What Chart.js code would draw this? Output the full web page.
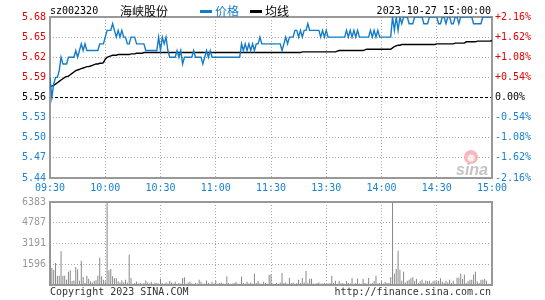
<!DOCTYPE html>
<html>
<head>
<meta charset="utf-8">
<script src="https://cdn.jsdelivr.net/npm/chart.js@4.4.1/dist/chart.umd.min.js"></script>
<style>
  body { margin: 0; background: #fff; }
  #wrap { position: relative; width: 545px; height: 300px; }
  #wrap canvas { position: absolute; left: 0; top: 0; }
</style>
</head>
<body>
<div id="wrap">
  <canvas id="priceChart" width="545" height="300"></canvas>
  <canvas id="volChart" width="545" height="300"></canvas>
</div>
<script>
// ─── Data (one point per minute, 09:30 → 15:00) ───────────────────
const prevClose = 5.56;
const xTickMins = [0, 30, 60, 90, 120, 150, 180, 210, 240];
const xTickLabels = ["09:30", "10:00", "10:30", "11:00", "11:30", "13:30", "14:00", "14:30", "15:00"];
const priceTicks = [5.44, 5.47, 5.50, 5.53, 5.56, 5.59, 5.62, 5.65, 5.68];
const priceTickLabels = ["5.44", "5.47", "5.50", "5.53", "5.56", "5.59", "5.62", "5.65", "5.68"];
const pctTicks = [-2.16, -1.62, -1.08, -0.54, 0, 0.54, 1.08, 1.62, 2.16];
const pctTickLabels = ["-2.16%", "-1.62%", "-1.08%", "-0.54%", "0.00%", "+0.54%", "+1.08%", "+1.62%", "+2.16%"];
const volTicks = [0, 1596, 3191, 4787, 6383];
const volTickLabels = ["", "1596", "3191", "4787", "6383"];

const price = [
  5.59,5.56,5.58,5.59,5.59,5.60,5.62,5.61,5.61,5.61,
  5.62,5.62,5.62,5.62,5.63,5.62,5.63,5.64,5.63,5.64,
  5.63,5.63,5.63,5.63,5.63,5.63,5.63,5.64,5.64,5.64,
  5.65,5.66,5.66,5.66,5.67,5.66,5.65,5.66,5.65,5.66,
  5.65,5.65,5.64,5.64,5.65,5.65,5.65,5.64,5.64,5.64,
  5.64,5.64,5.63,5.63,5.63,5.63,5.63,5.63,5.63,5.65,
  5.63,5.65,5.64,5.65,5.63,5.62,5.62,5.62,5.62,5.63,
  5.62,5.63,5.61,5.62,5.62,5.62,5.62,5.62,5.63,5.62,
  5.62,5.62,5.62,5.61,5.62,5.63,5.62,5.63,5.62,5.62,
  5.62,5.62,5.62,5.62,5.62,5.62,5.62,5.62,5.62,5.62,
  5.62,5.62,5.62,5.62,5.64,5.63,5.64,5.63,5.64,5.63,
  5.64,5.63,5.64,5.64,5.65,5.64,5.64,5.64,5.64,5.64,
  5.64,5.64,5.64,5.64,5.64,5.64,5.63,5.64,5.65,5.64,
  5.65,5.65,5.65,5.66,5.66,5.65,5.66,5.65,5.66,5.66,
  5.67,5.66,5.66,5.66,5.66,5.66,5.66,5.65,5.66,5.65,
  5.66,5.65,5.65,5.65,5.65,5.65,5.65,5.65,5.65,5.65,
  5.65,5.66,5.65,5.66,5.65,5.66,5.65,5.66,5.65,5.65,
  5.65,5.65,5.65,5.65,5.66,5.65,5.66,5.65,5.66,5.65,
  5.65,5.65,5.65,5.65,5.65,5.65,5.68,5.66,5.68,5.66,
  5.68,5.67,5.68,5.68,5.68,5.67,5.67,5.67,5.68,5.68,
  5.68,5.68,5.68,5.67,5.67,5.67,5.68,5.68,5.68,5.68,
  5.68,5.67,5.67,5.68,5.68,5.67,5.68,5.68,5.67,5.67,
  5.68,5.68,5.67,5.68,5.68,5.68,5.68,5.68,5.68,5.68,
  5.67,5.67,5.67,5.67,5.67,5.68,5.68,5.68,5.68,5.68,
  5.68
];

const avgPrice = [
  5.577,5.577,5.578,5.580,5.582,5.584,5.586,5.588,5.590,5.591,
  5.592,5.594,5.596,5.598,5.600,5.601,5.602,5.603,5.604,5.605,
  5.606,5.606,5.607,5.608,5.609,5.610,5.610,5.611,5.611,5.612,
  5.617,5.620,5.621,5.622,5.623,5.623,5.623,5.624,5.624,5.624,
  5.624,5.624,5.624,5.624,5.625,5.625,5.625,5.626,5.626,5.626,
  5.626,5.627,5.627,5.627,5.627,5.627,5.627,5.627,5.627,5.627,
  5.627,5.627,5.627,5.627,5.627,5.627,5.627,5.627,5.627,5.627,
  5.627,5.627,5.627,5.627,5.627,5.627,5.627,5.627,5.627,5.627,
  5.627,5.627,5.627,5.627,5.627,5.627,5.627,5.627,5.627,5.627,
  5.627,5.627,5.627,5.627,5.627,5.627,5.627,5.627,5.627,5.627,
  5.627,5.627,5.627,5.627,5.627,5.627,5.627,5.627,5.627,5.627,
  5.627,5.627,5.627,5.627,5.627,5.627,5.627,5.627,5.627,5.627,
  5.627,5.627,5.627,5.627,5.627,5.627,5.627,5.627,5.627,5.627,
  5.627,5.627,5.627,5.627,5.627,5.627,5.627,5.628,5.628,5.628,
  5.628,5.628,5.628,5.628,5.628,5.628,5.628,5.628,5.628,5.628,
  5.628,5.628,5.628,5.628,5.628,5.628,5.629,5.630,5.630,5.630,
  5.630,5.630,5.630,5.630,5.630,5.630,5.630,5.630,5.630,5.630,
  5.630,5.631,5.632,5.632,5.632,5.632,5.632,5.632,5.632,5.632,
  5.632,5.632,5.632,5.632,5.632,5.632,5.634,5.636,5.637,5.638,
  5.638,5.639,5.639,5.639,5.639,5.639,5.639,5.639,5.639,5.639,
  5.639,5.639,5.639,5.639,5.639,5.639,5.639,5.639,5.639,5.639,
  5.640,5.640,5.640,5.640,5.640,5.640,5.640,5.640,5.640,5.640,
  5.641,5.641,5.641,5.641,5.641,5.641,5.643,5.643,5.643,5.643,
  5.643,5.643,5.644,5.644,5.644,5.644,5.644,5.644,5.644,5.644,
  5.645
];

const volume = [
  3000,1300,1180,1690,720,720,2590,720,720,410,
  1020,1130,300,350,1380,1200,330,1870,620,150,
  720,490,280,200,330,360,720,2100,670,410,
  280,6383,1130,1230,670,510,510,280,200,360,
  200,410,200,2330,540,100,150,260,120,180,
  100,150,350,200,120,250,100,180,150,120,
  490,150,100,200,120,300,200,120,250,100,
  150,120,540,590,100,200,250,120,100,150,
  120,410,250,100,120,350,150,100,250,120,
  300,100,150,200,120,100,670,150,100,120,
  150,250,120,100,660,150,100,250,120,200,
  100,870,150,300,120,100,250,150,100,790,
  800,120,80,150,100,200,920,150,200,100,
  560,150,200,100,150,400,150,540,200,1100,
  150,490,490,120,100,150,200,100,120,150,
  100,120,150,720,150,330,100,300,120,150,
  100,300,150,120,540,100,150,490,120,100,
  490,150,120,540,100,150,300,720,120,150,
  280,120,250,150,150,620,6350,870,1230,2640,
  1180,330,1020,200,330,410,510,590,330,460,
  150,280,410,150,350,280,330,150,280,350,
  280,330,510,250,150,330,200,410,150,330,
  100,560,560,870,460,800,150,280,410,410,
  800,1020,280,150,410,410,460,330,100,80,
  50
];

// ─── Styles ───────────────────────────────────────────────────────
const BLUE_LINE = "#137cc9";
const BLUE_TEXT = "#1a82d4";
const RED_TEXT = "#e60000";
const GRID = "#aaaaaa";
const FRAME = "#999999";
const MONO = '"DejaVu Sans Mono", monospace';
const CJK = '"Noto Sans CJK SC", sans-serif';

Chart.defaults.font.family = MONO;
Chart.defaults.font.size = 10;

const setTicks = (values) => (scale) => {
    scale.ticks = values.map(v => ({ value: v }));
};
const sideColor = (i, mid) => (i < mid ? BLUE_TEXT : i > mid ? RED_TEXT : "#000");

// ─── Plugins ──────────────────────────────────────────────────────
const FramePlugin = {
    id: "frame",
    beforeDatasetsDraw(chart) {
        const { ctx, chartArea: a } = chart;
        ctx.save();
        ctx.strokeStyle = FRAME;
        ctx.lineWidth = 2;
        ctx.strokeRect(a.left, a.top, a.right - a.left, a.bottom - a.top);
        ctx.restore();
    },
};

const HeaderPlugin = {
    id: "header",
    afterDraw(chart) {
        const { ctx } = chart;
        ctx.save();
        ctx.textBaseline = "middle";
        ctx.fillStyle = "#000";
        ctx.font = "10px " + MONO;
        ctx.fillText("sz002320", 50, 11);
        ctx.font = "12px " + CJK;
        ctx.fillText("海峡股份", 120, 11);

        // legend
        ctx.fillStyle = BLUE_LINE;
        ctx.fillRect(200, 10, 12, 3);
        ctx.fillText("价格", 215, 11);
        ctx.fillStyle = "#000";
        ctx.fillRect(250, 10, 12, 3);
        ctx.fillText("均线", 265, 11);

        ctx.font = "10px " + MONO;
        ctx.textAlign = "right";
        ctx.fillText("2023-10-27 15:00:00", 491, 11);

        // sina watermark
        ctx.globalAlpha = 0.75;
        ctx.fillStyle = "#f3a3a8";
        ctx.beginPath();
        ctx.arc(471, 157, 7, 0, Math.PI * 2);
        ctx.fill();
        ctx.fillStyle = "#fff";
        ctx.beginPath();
        ctx.arc(471, 158, 3.5, 0, Math.PI * 2);
        ctx.fill();
        ctx.fillStyle = "#b0b0b0";
        ctx.textAlign = "left";
        ctx.textBaseline = "alphabetic";
        ctx.font = "italic bold 16px Arial, sans-serif";
        ctx.fillText("sina", 456, 175);
        ctx.restore();
    },
};

const FooterPlugin = {
    id: "footer",
    afterDraw(chart) {
        const { ctx } = chart;
        ctx.save();
        ctx.font = "10px " + MONO;
        ctx.fillStyle = "#333";
        ctx.textBaseline = "middle";
        ctx.fillText("Copyright 2023 SINA.COM", 50, 292);
        ctx.textAlign = "right";
        ctx.fillText("http://finance.sina.com.cn", 491, 292);
        ctx.restore();
    },
};

// ─── Price / average chart ────────────────────────────────────────
new Chart(document.getElementById("priceChart"), {
    type: "line",
    data: {
        datasets: [
            {
                label: "价格",
                data: price.map((v, i) => ({ x: i, y: v })),
                borderColor: BLUE_LINE,
                borderWidth: 1.4,
                pointRadius: 0,
                tension: 0,
                yAxisID: "y",
            },
            {
                label: "均线",
                data: avgPrice.map((v, i) => ({ x: i, y: v })),
                borderColor: "#000",
                borderWidth: 1.4,
                pointRadius: 0,
                tension: 0,
                yAxisID: "y",
            },
        ],
    },
    options: {
        responsive: false,
        animation: false,
        events: [],
        layout: { padding: { top: 17, bottom: 100, left: 0, right: 0 } },
        plugins: { legend: { display: false }, tooltip: { enabled: false } },
        scales: {
            x: {
                type: "linear",
                min: 0,
                max: 240,
                afterBuildTicks: setTicks(xTickMins),
                afterFit: s => { s.height = 22; },
                ticks: {
                    callback: (v, i) => xTickLabels[i],
                    color: BLUE_TEXT,
                    padding: 4,
                    maxRotation: 0,
                    autoSkip: false,
                },
                grid: { color: GRID, drawTicks: false },
                border: { display: false, dash: [1, 2] },
            },
            y: {
                position: "left",
                min: priceTicks[0],
                max: priceTicks[priceTicks.length - 1],
                afterBuildTicks: setTicks(priceTicks),
                afterFit: s => { s.width = 50; },
                ticks: {
                    callback: (v, i) => priceTickLabels[i],
                    color: c => sideColor(c.index, 4),
                    padding: 4,
                },
                grid: {
                    color: c => (c.index === 4 ? "#000" : GRID),
                    drawTicks: false,
                },
                border: { display: false, dash: c => (c.index === 4 ? [3, 2] : [1, 2]) },
            },
            y2: {
                position: "right",
                min: pctTicks[0],
                max: pctTicks[pctTicks.length - 1],
                afterBuildTicks: setTicks(pctTicks),
                afterFit: s => { s.width = 53; },
                ticks: {
                    callback: (v, i) => pctTickLabels[i],
                    color: c => sideColor(c.index, 4),
                    padding: 3,
                },
                grid: { drawOnChartArea: false, drawTicks: false },
                border: { display: false },
            },
        },
    },
    plugins: [FramePlugin, HeaderPlugin],
});

// ─── Volume chart ─────────────────────────────────────────────────
new Chart(document.getElementById("volChart"), {
    type: "bar",
    data: {
        datasets: [{
            data: volume.map((v, i) => ({ x: i, y: v })),
            backgroundColor: "#888",
            borderWidth: 0,
            barThickness: 1,
            inflateAmount: 0,
        }],
    },
    options: {
        responsive: false,
        animation: false,
        events: [],
        layout: { padding: { top: 202, bottom: 0, left: 0, right: 53 } },
        plugins: { legend: { display: false }, tooltip: { enabled: false } },
        scales: {
            x: {
                type: "linear",
                min: 0,
                max: 240,
                offset: false,
                afterBuildTicks: setTicks(xTickMins),
                afterFit: s => { s.height = 15; },
                ticks: { display: false },
                grid: { color: GRID, drawTicks: false, offset: false },
                border: { display: false, dash: [1, 2] },
            },
            y: {
                min: 0,
                max: volTicks[volTicks.length - 1],
                afterBuildTicks: setTicks(volTicks),
                afterFit: s => { s.width = 50; },
                ticks: {
                    callback: (v, i) => volTickLabels[i],
                    color: "#999",
                    padding: 4,
                },
                grid: { color: GRID, drawTicks: false },
                border: { display: false, dash: [1, 2] },
            },
        },
    },
    plugins: [FramePlugin, FooterPlugin],
});
</script>
</body>
</html>
